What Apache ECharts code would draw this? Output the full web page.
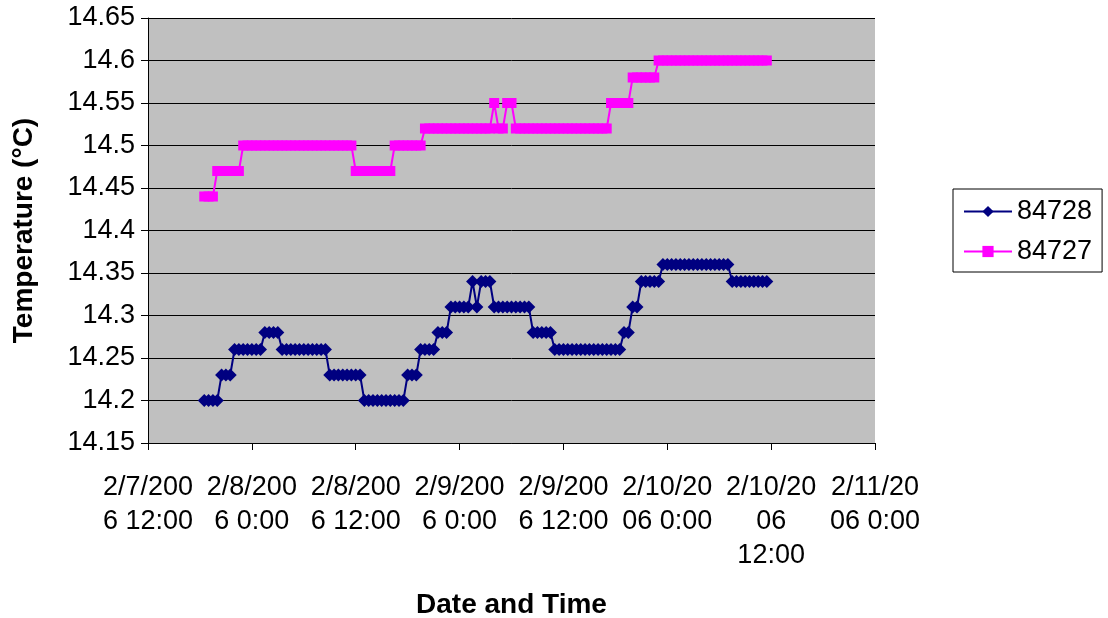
<!DOCTYPE html>
<html>
<head>
<meta charset="utf-8">
<title>Temperature 84728 / 84727</title>
<script src="https://cdn.jsdelivr.net/npm/echarts@6/dist/echarts.min.js"></script>
<style>
    html, body { margin: 0; padding: 0; background: #fff; }
    #chart { width: 1108px; height: 618px; }
</style>
</head>
<body>
<div id="chart"></div>
<script>
// hours after 2/7/2006 12:00, one reading every half hour
var firstHour = 6.5;
var stepHour = 0.5;

var xTickLabels = [
    '2/7/200\n6 12:00',
    '2/8/200\n6 0:00',
    '2/8/200\n6 12:00',
    '2/9/200\n6 0:00',
    '2/9/200\n6 12:00',
    '2/10/20\n06 0:00',
    '2/10/20\n06\n12:00',
    '2/11/20\n06 0:00'
];

var seriesNames = ['84728', '84727'];

var temp84728 = [
    14.20, 14.20, 14.20, 14.20,
    14.23, 14.23, 14.23,
    14.26, 14.26, 14.26, 14.26, 14.26, 14.26, 14.26,
    14.28, 14.28, 14.28, 14.28,
    14.26, 14.26, 14.26, 14.26, 14.26, 14.26, 14.26, 14.26, 14.26, 14.26, 14.26,
    14.23, 14.23, 14.23, 14.23, 14.23, 14.23, 14.23, 14.23,
    14.20, 14.20, 14.20, 14.20, 14.20, 14.20, 14.20, 14.20, 14.20, 14.20,
    14.23, 14.23, 14.23,
    14.26, 14.26, 14.26, 14.26,
    14.28, 14.28, 14.28,
    14.31, 14.31, 14.31, 14.31, 14.31,
    14.34,
    14.31,
    14.34, 14.34, 14.34,
    14.31, 14.31, 14.31, 14.31, 14.31, 14.31, 14.31, 14.31, 14.31,
    14.28, 14.28, 14.28, 14.28, 14.28,
    14.26, 14.26, 14.26, 14.26, 14.26, 14.26, 14.26, 14.26, 14.26, 14.26, 14.26, 14.26, 14.26, 14.26, 14.26, 14.26,
    14.28, 14.28,
    14.31, 14.31,
    14.34, 14.34, 14.34, 14.34, 14.34,
    14.36, 14.36, 14.36, 14.36, 14.36, 14.36, 14.36, 14.36, 14.36, 14.36, 14.36, 14.36, 14.36, 14.36, 14.36, 14.36,
    14.34, 14.34, 14.34, 14.34, 14.34, 14.34, 14.34, 14.34, 14.34
];

var temp84727 = [
    14.44, 14.44, 14.44,
    14.47, 14.47, 14.47, 14.47, 14.47, 14.47,
    14.50, 14.50, 14.50, 14.50, 14.50, 14.50, 14.50, 14.50, 14.50, 14.50, 14.50, 14.50, 14.50,
    14.50, 14.50, 14.50, 14.50, 14.50, 14.50, 14.50, 14.50, 14.50, 14.50, 14.50, 14.50, 14.50,
    14.47, 14.47, 14.47, 14.47, 14.47, 14.47, 14.47, 14.47, 14.47,
    14.50, 14.50, 14.50, 14.50, 14.50, 14.50, 14.50,
    14.52, 14.52, 14.52, 14.52, 14.52, 14.52, 14.52, 14.52, 14.52, 14.52, 14.52, 14.52, 14.52, 14.52, 14.52, 14.52,
    14.55,
    14.52, 14.52,
    14.55, 14.55,
    14.52, 14.52, 14.52, 14.52, 14.52, 14.52, 14.52, 14.52, 14.52, 14.52, 14.52,
    14.52, 14.52, 14.52, 14.52, 14.52, 14.52, 14.52, 14.52, 14.52, 14.52, 14.52,
    14.55, 14.55, 14.55, 14.55, 14.55,
    14.58, 14.58, 14.58, 14.58, 14.58, 14.58,
    14.60, 14.60, 14.60, 14.60, 14.60, 14.60, 14.60, 14.60, 14.60, 14.60, 14.60, 14.60, 14.60,
    14.60, 14.60, 14.60, 14.60, 14.60, 14.60, 14.60, 14.60, 14.60, 14.60, 14.60, 14.60, 14.60
];

var FONT = 'Liberation Sans, Arial, sans-serif';

function toPairs(values) {
    var list = [];
    for (var i = 0; i < values.length; i++) {
        list.push([firstHour + i * stepHour, values[i]]);
    }
    return list;
}

window.onload = function () {
    var myChart = echarts.init(document.getElementById('chart'));

    var option = {
        animation: false,
        textStyle: { fontFamily: FONT, color: '#000' },
        grid: {
            left: 148, right: 233, top: 18, bottom: 175,
            containLabel: false,
            outerBoundsMode: 'none',
            show: true,
            backgroundColor: '#c0c0c0',
            borderWidth: 0
        },
        legend: {
            orient: 'vertical',
            left: 953,
            top: 189,
            padding: [9, 10, 7, 10],
            borderColor: '#000',
            borderWidth: 1,
            itemWidth: 48,
            itemHeight: 14,
            itemGap: 13,
            textStyle: { fontFamily: FONT, fontSize: 27, color: '#000' },
            data: seriesNames
        },
        xAxis: {
            type: 'value',
            min: 0,
            max: 84,
            interval: 12,
            name: 'Date and Time',
            nameLocation: 'middle',
            nameGap: 148,
            nameTextStyle: { fontFamily: FONT, fontSize: 28, fontWeight: 'bold', color: '#000' },
            axisLine: { show: true, onZero: false, lineStyle: { color: '#000', width: 1 } },
            axisTick: { show: true, length: 7, lineStyle: { color: '#000' } },
            axisLabel: {
                show: true,
                showMinLabel: true,
                showMaxLabel: true,
                margin: 28,
                fontSize: 27,
                lineHeight: 34,
                color: '#000',
                formatter: function (v) {
                    return xTickLabels[Math.round(v / 12)];
                }
            },
            splitLine: { show: false }
        },
        yAxis: {
            type: 'value',
            min: 14.15,
            max: 14.65,
            interval: 0.05,
            name: 'Temperature (°C)',
            nameLocation: 'middle',
            nameGap: 110,
            nameTextStyle: { fontFamily: FONT, fontSize: 28, fontWeight: 'bold', color: '#000' },
            axisLine: { show: true, lineStyle: { color: '#000', width: 1 } },
            axisTick: { show: true, length: 7, lineStyle: { color: '#000' } },
            axisLabel: { margin: 13, fontSize: 27, color: '#000' },
            splitLine: { show: true, lineStyle: { color: '#000', width: 1 } }
        },
        series: [
            {
                name: seriesNames[0],
                type: 'line',
                data: toPairs(temp84728),
                symbol: 'diamond',
                symbolSize: 13,
                showSymbol: true,
                showAllSymbol: true,
                itemStyle: { color: '#000080' },
                lineStyle: { color: '#000080', width: 2 }
            },
            {
                name: seriesNames[1],
                type: 'line',
                data: toPairs(temp84727),
                symbol: 'rect',
                symbolSize: 10,
                showSymbol: true,
                showAllSymbol: true,
                itemStyle: { color: '#ff00ff' },
                lineStyle: { color: '#ff00ff', width: 2 }
            }
        ]
    };

    myChart.setOption(option);
};
</script>
</body>
</html>
